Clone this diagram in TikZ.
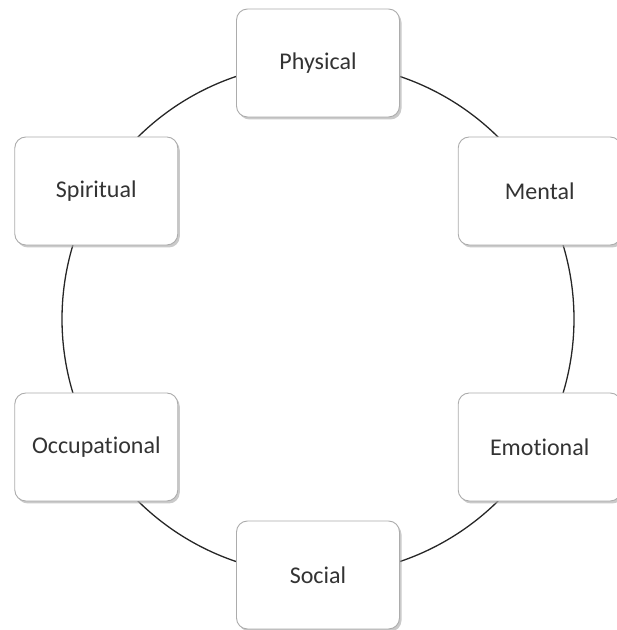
\documentclass[tikz,border=0pt]{standalone}
\usepackage{fontspec}
\setmainfont{Carlito}[Ligatures=NoCommon]
\usetikzlibrary{shadows,backgrounds,calc}
\begin{document}
\begin{tikzpicture}[x=1pt,y=1pt,
  wbox/.style={draw=gray!65, line width=0.9pt, fill=white, rounded corners=11pt,
    minimum width=163pt, minimum height=108pt, inner sep=0pt,
    font=\fontsize{24}{28}\selectfont, text=black!80,
    drop shadow={shadow xshift=2pt, shadow yshift=-2.5pt, fill=gray!70, opacity=0.6}},
  ring/.style={draw=black!85, line width=1.3pt}]
\useasboundingbox (0,0) rectangle (617,630);
\coordinate (c) at (318,311);
\node[wbox] (phys) at ($(c)+(90:256)$) {Physical};
\node[wbox] (ment) at ($(c)+(30:256)$) {Mental};
\node[wbox] (emot) at ($(c)+(-30:256)$) {Emotional};
\node[wbox] (soc)  at ($(c)+(-90:256)$) {Social};
\node[wbox] (occ)  at ($(c)+(-150:256)$) {Occupational};
\node[wbox] (spir) at ($(c)+(150:256)$) {Spiritual};
\begin{scope}[on background layer]
\draw[ring] (phys.center) arc[start angle=90, end angle=30, radius=256];
\draw[ring] (ment.center) arc[start angle=30, end angle=-30, radius=256];
\draw[ring] (emot.center) arc[start angle=-30, end angle=-90, radius=256];
\draw[ring] (soc.center) arc[start angle=-90, end angle=-150, radius=256];
\draw[ring] (occ.center) arc[start angle=-150, end angle=-210, radius=256];
\draw[ring] (spir.center) arc[start angle=150, end angle=90, radius=256];
\end{scope}
\end{tikzpicture}
\end{document}
